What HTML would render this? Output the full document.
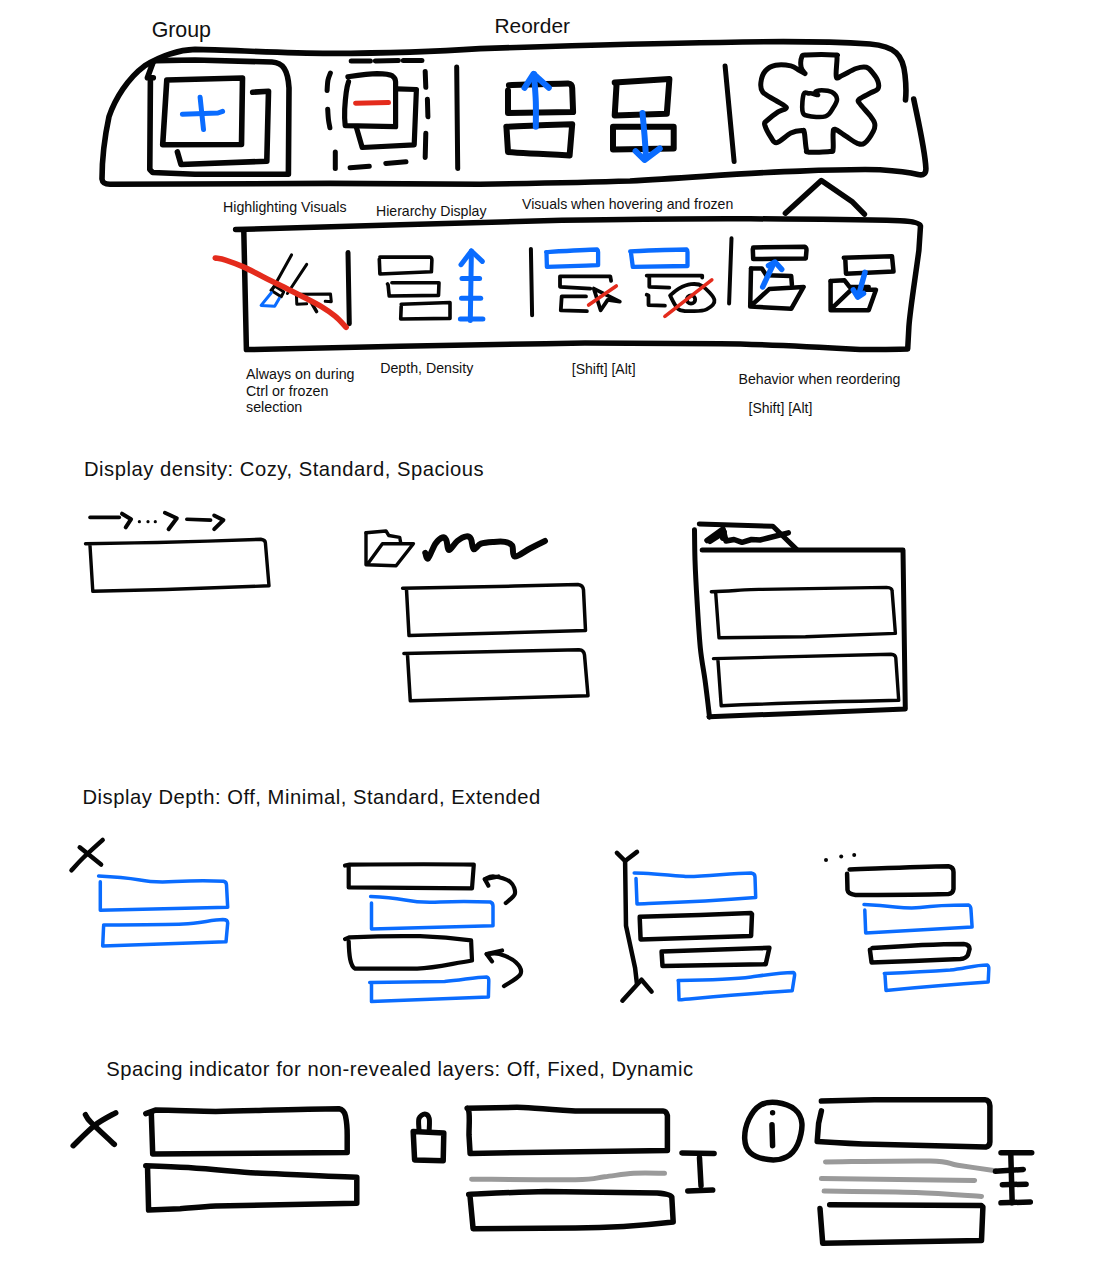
<!DOCTYPE html><html><head><meta charset="utf-8"><style>html,body{margin:0;padding:0;background:#fff;}svg{display:block;}text{font-family:"Liberation Sans",sans-serif;fill:#111;}</style></head><body>
<svg width="1095" height="1274" viewBox="0 0 1095 1274">
<rect width="1095" height="1274" fill="#fff"/>
<g fill="none" stroke-linecap="round" stroke-linejoin="round">
<path d="M905.5 100 C906 95 906.5 88 905 75 C903 55 895 46 870 44 C830 41.5 780 41 720 42.5 C640 43.5 560 46 480 48.6 C430 52 380 53.2 330 53.4 C280 53 230 50 195 49.4 C177 50 161 56 144.5 65.9 C128 78 115 98.9 109 116.6 C104 140 102 163.7 102 179 C102.5 183 105 184.3 110 184.3 L330 183.4 C400 184 450 184.5 480 184.2 C560 183 600 182 630 181 C700 177 760 172 800 171.1 C840 169.5 870 169.5 880 169.7 C900 171 912 173 918 174.5 C924 176 926 173 925.9 168.3 C925 150 918 120 913.7 99" stroke="#050505" stroke-width="5.6"/>
<path d="M153.3 77.7 L147.4 77.7 L153.3 61.8 L156 60.6 L195 60 L272 62 C283 62.5 288 70 289 88 L288.4 174.2 L195 174.3 L152.7 172.5 L149.8 169.6 L150.4 78.9" stroke="#050505" stroke-width="5.6"/>
<path d="M166.8 80.0 L242.5 78.0 L241.5 144.5 L162.7 144.8 L166.8 80.0" stroke="#050505" stroke-width="5.6"/>
<path d="M252.7 92.2 L268.5 91.2 L266.8 161.2 L181.0 164.5 L177.4 151.9" stroke="#050505" stroke-width="5.6"/>
<path d="M182.4 114.3 L218.0 113.0 L222.6 111.3" stroke="#0a6cff" stroke-width="5"/>
<path d="M200.1 97.3 L203.5 129.4" stroke="#0a6cff" stroke-width="5"/>
<path d="M351.2 61.0 L370.4 61.0" stroke="#050505" stroke-width="5"/>
<path d="M375.3 61.0 L398.4 60.4" stroke="#050505" stroke-width="5"/>
<path d="M403.3 60.4 L421.9 60.4" stroke="#050505" stroke-width="5"/>
<path d="M330.4 73.0 C330.0 74.2 328.6 77.1 328.0 80.0 C327.4 82.9 327.2 88.8 327.1 90.5" stroke="#050505" stroke-width="5"/>
<path d="M327.7 109.2 C327.8 111.0 328.1 116.9 328.5 120.0 C328.9 123.1 329.7 126.5 329.9 127.8" stroke="#050505" stroke-width="5"/>
<path d="M335.3 151.9 L335.3 168.4" stroke="#050505" stroke-width="5"/>
<path d="M350.1 167.8 L369.3 166.2" stroke="#050505" stroke-width="5"/>
<path d="M385.8 163.4 L406.0 161.8" stroke="#050505" stroke-width="5"/>
<path d="M425.2 71.4 L425.8 87.3" stroke="#050505" stroke-width="5"/>
<path d="M427.4 99.3 L427.9 116.8" stroke="#050505" stroke-width="5"/>
<path d="M425.8 133.3 L425.2 157.4" stroke="#050505" stroke-width="5"/>
<path d="M347.9 76.8 C360 75 370 73.6 377 73.6 C385 73.8 390 74.5 392.3 75.8 Q395.6 78 395.6 81.8 L395.6 126.7 L345.2 125.6 C344.5 120 344.5 114 344.7 109.2 C345.5 95 347 86 348.5 81.8" stroke="#050505" stroke-width="5.2"/>
<path d="M397.3 88.9 L416.4 89.5 L414.2 144.8 L362.2 147.5 L356.2 126.7" stroke="#050505" stroke-width="5.2"/>
<path d="M355.6 103.2 L388.5 102.6" stroke="#e42b1c" stroke-width="5"/>
<path d="M456.7 67.1 L457.7 168.6" stroke="#050505" stroke-width="5"/>
<path d="M508.9 85.2 C530 84.5 550 83.6 567.9 83.4 Q572.2 84 572.2 88 L573.1 112.1 L508 112.9 L508 90.4" stroke="#050505" stroke-width="6"/>
<path d="M506.3 126.8 C520 126.5 535 125.5 547 125.1 L572.2 124.2 L569.6 155.4 C540 154 520 153 508 152 L506.5 128" stroke="#050505" stroke-width="6"/>
<path d="M535.8 126.8 C535.8 122.6 536.1 110.4 535.8 101.6 C535.5 92.8 534.3 78.6 534.0 74.0" stroke="#0a6cff" stroke-width="6"/>
<path d="M524.5 87.8 L533.5 74.0 L548.8 87.8" stroke="#0a6cff" stroke-width="6"/>
<path d="M614.7 82.6 L669.4 79.1 L666.8 113.8 L614.7 115.5 L616.5 85.2" stroke="#050505" stroke-width="6"/>
<path d="M613.0 126.8 L673.7 126.8 L673.7 148.5 L613.0 149.4 L613.0 127.5" stroke="#050505" stroke-width="6"/>
<path d="M642.5 112.9 C642.8 116.6 643.9 127.5 644.5 135.0 C645.1 142.5 645.8 154.2 646.0 158.0" stroke="#0a6cff" stroke-width="6"/>
<path d="M635.6 151.1 L644.5 160.0 L659.8 148.5" stroke="#0a6cff" stroke-width="6"/>
<path d="M725.1 66.1 L734.1 161.6" stroke="#050505" stroke-width="5"/>
<path d="M805.0 73.6 C804.4 72.5 801.6 70.0 801.1 67.2 C800.6 64.4 800.9 59.0 801.8 57.0 C802.7 55.0 800.9 55.3 806.3 55.0 C811.7 54.7 829.3 54.6 834.4 55.0 C839.5 55.4 836.7 54.0 837.0 57.6 C837.3 61.2 835.4 73.8 836.3 76.8 C837.1 79.8 838.8 76.9 842.1 75.5 C845.4 74.1 852.1 69.9 856.1 68.5 C860.1 67.1 863.6 66.5 866.4 67.2 C869.2 67.9 870.8 70.6 872.7 72.9 C874.6 75.2 877.0 78.5 877.9 81.2 C878.8 83.9 879.1 87.0 877.9 88.9 C876.7 90.8 873.9 91.1 870.8 92.8 C867.7 94.5 861.2 97.4 859.3 99.1 C857.4 100.8 857.5 100.2 859.3 103.0 C861.1 105.8 867.6 112.4 870.2 115.8 C872.8 119.2 874.2 120.9 874.7 123.4 C875.2 126.0 875.1 127.8 873.4 131.1 C871.7 134.4 867.1 141.3 864.4 143.3 C861.7 145.3 860.5 144.5 857.4 143.3 C854.3 142.1 849.6 138.5 845.9 136.2 C842.2 133.8 837.1 129.6 835.0 129.2 C832.9 128.8 833.4 130.4 833.1 133.7 C832.8 137.0 833.6 146.0 833.1 149.0 C832.6 152.0 834.0 151.1 829.9 151.6 C825.8 152.1 812.7 152.6 808.8 152.2 C804.9 151.8 807.0 152.3 806.3 149.0 C805.5 145.7 805.0 135.5 804.3 132.4 C803.5 129.3 804.0 130.4 801.8 130.5 C799.6 130.6 795.0 131.0 790.9 133.0 C786.8 135.0 780.2 141.8 776.9 142.6 C773.6 143.3 773.1 140.5 771.1 137.5 C769.1 134.5 765.5 127.5 764.7 124.7 C764.0 121.9 764.4 123.0 766.6 120.9 C768.8 118.8 774.8 114.1 778.1 111.9 C781.4 109.7 786.8 109.4 786.4 107.5 C786.0 105.6 779.5 103.0 775.6 100.4 C771.7 97.8 765.2 95.1 762.8 92.1 C760.3 89.1 760.5 86.0 760.9 82.5 C761.3 79.0 762.8 73.9 765.3 71.0 C767.8 68.1 771.3 66.1 775.6 65.3 C779.9 64.5 787.0 65.1 790.9 65.9 C794.8 66.8 796.9 69.1 799.2 70.4 C801.6 71.7 804.0 73.1 805.0 73.6" stroke="#050505" stroke-width="5"/>
<path d="M808.8 93.4 C807.4 93.5 804.8 91.1 803.7 94.0 C802.6 96.9 801.8 107.1 802.4 110.7 C803.0 114.3 803.7 114.8 807.5 115.8 C811.3 116.8 821.1 117.7 825.4 116.4 C829.7 115.1 831.2 111.0 833.1 108.1 C835.0 105.2 837.2 101.8 837.0 99.1 C836.8 96.4 834.4 93.6 831.8 92.1 C829.2 90.6 824.4 90.2 821.6 90.2 C818.8 90.2 815.8 91.3 815.2 92.1 C814.6 92.9 818.5 94.8 818.0 95.0 C817.5 95.2 813.5 93.8 812.0 93.5 C810.5 93.2 810.2 93.3 808.8 93.4" stroke="#050505" stroke-width="4.6"/>
<path d="M785.4 213.2 L821.3 180.5 L852.6 202.1 L864.4 214.2" stroke="#050505" stroke-width="5.5"/>
<path d="M235.6 229.5 C300 227.5 350 226 400 224.8 C480 222.5 530 220.8 585 219.9 C650 219 700 218.6 750 218.8 C820 219.2 870 220 900 220.8 Q919 221.5 920.5 226 L918.9 250.4 C915 280 910 310 908.9 326.7 L907.7 348.9 C880 349.5 870 349.6 860 349.6 C800 346 760 344 720 343.7 L585 343 C520 344 450 345.5 400 346.3 C320 348 270 349.5 246.4 349.6 L244 240 L243.8 230.7" stroke="#050505" stroke-width="5.5"/>
<path d="M291.5 254.9 L272.2 289.8" stroke="#050505" stroke-width="3"/>
<path d="M306.7 264.3 L287.4 293.5" stroke="#050505" stroke-width="3"/>
<path d="M271.0 290.2 L274.7 286.1 L283.7 291.8 L281.2 296.8 L271.0 290.2" stroke="#050505" stroke-width="3"/>
<path d="M271.4 292.7 L261.1 305.4 L274.7 306.2 L279.2 298.4" stroke="#0a6cff" stroke-width="3"/>
<path d="M325.2 301.3 L331.3 301.7 L330.5 293.9 L296.4 294.3 L296.8 304.2 L306.7 303.8" stroke="#050505" stroke-width="3"/>
<path d="M310.8 301.7 L316.6 311.6" stroke="#050505" stroke-width="3.5"/>
<path d="M348.0 252.6 L349.3 323.8" stroke="#050505" stroke-width="5"/>
<path d="M215.3 258.0 C217.0 258.4 220.8 258.6 225.5 260.1 C230.2 261.6 237.2 264.2 243.4 266.9 C249.6 269.6 256.1 273.3 262.5 276.5 C268.9 279.7 275.3 282.9 281.7 286.1 C288.1 289.3 294.3 292.3 300.9 295.7 C307.5 299.1 315.7 303.2 321.4 306.6 C327.1 310.0 331.0 312.8 335.1 316.2 C339.2 319.6 344.3 325.4 346.1 327.2" stroke="#e42b1c" stroke-width="5.6"/>
<path d="M379.9 257.1 L429.7 257.1 Q431.9 257.5 431.9 260 L431.4 271.8 L379.9 274 L379.3 259.2" stroke="#050505" stroke-width="3.6"/>
<path d="M391.9 282.8 L439 282.8 L438.5 295.4 L389.2 296 L388.1 285 L387.5 284" stroke="#050505" stroke-width="3.6"/>
<path d="M401.2 304.2 L450 302.5 L450 318.4 L400.7 319 L401.2 306.4" stroke="#050505" stroke-width="3.6"/>
<path d="M471.4 251.0 L470.3 320.6" stroke="#0a6cff" stroke-width="5"/>
<path d="M461.0 264.7 L471.4 251.0 L482.3 261.4" stroke="#0a6cff" stroke-width="5"/>
<path d="M462.0 278.4 L479.6 278.4" stroke="#0a6cff" stroke-width="5"/>
<path d="M461.5 298.2 L480.7 298.2" stroke="#0a6cff" stroke-width="5"/>
<path d="M460.4 319.0 L482.9 319.0" stroke="#0a6cff" stroke-width="5"/>
<path d="M530.9 248.9 L532.1 315.3" stroke="#050505" stroke-width="4"/>
<path d="M731.5 238.2 L729.1 303.5" stroke="#050505" stroke-width="4"/>
<path d="M546.1 252.1 C565 251 585 249.8 597.3 249.5 Q598.1 250 598.1 252 L598.1 265.2 C580 265.8 560 266.5 546.9 266.9 L546.5 253" stroke="#0a6cff" stroke-width="4.3"/>
<path d="M630.2 251.3 C650 250.5 670 249.7 686.6 249.5 Q687.5 250 687.5 252 L687.5 266 C665 266.3 645 266.7 632.8 266.9 L631 253" stroke="#0a6cff" stroke-width="4.3"/>
<path d="M611.1 280.8 L610.3 276.4 L560.0 276.4 L560.0 286.8 L590.3 288.6" stroke="#050505" stroke-width="3.8"/>
<path d="M586.0 296.4 L561.7 296.4 L560.8 310.3 L586.9 311.1" stroke="#050505" stroke-width="3.8"/>
<path d="M593.8 288.6 L619.8 301.6 L607.7 299.9 L600.7 310.3 L593.8 288.6" stroke="#050505" stroke-width="3.8"/>
<path d="M588.6 305.1 L616.3 286.0" stroke="#e42b1c" stroke-width="3.6"/>
<path d="M702.2 277.5 L702.2 275.6 L646.7 275.6" stroke="#050505" stroke-width="3.8"/>
<path d="M649.3 277.3 L649.3 286.8 L669.3 287.7" stroke="#050505" stroke-width="3.8"/>
<path d="M646.7 294.7 L648.5 295.5 L648.5 305.1 L664.9 305.6" stroke="#050505" stroke-width="3.8"/>
<path d="M670.1 295.5 C671.5 294.4 675.3 290.5 678.8 288.6 C682.3 286.7 687.1 284.6 691.0 284.2 C694.9 283.8 698.3 283.4 702.2 286.0 C706.1 288.6 713.7 296.0 714.4 299.9 C715.1 303.8 710.2 307.5 706.6 309.4 C703.0 311.3 697.3 311.1 692.7 311.1 C688.1 311.1 682.6 312.0 678.8 309.4 C675.0 306.8 671.5 297.8 670.1 295.5" stroke="#050505" stroke-width="3.8"/>
<circle cx="691.0" cy="299.5" r="4.2" stroke="#050505" stroke-width="3.8"/>
<path d="M664.9 316.3 L711.8 279.9" stroke="#e42b1c" stroke-width="3.6"/>
<path d="M753.2 247.4 C770 247 790 246.7 804.3 246.7 Q806.5 247.5 806.5 250 L805.8 258.4 C790 258.6 770 258.9 753.2 259.1 L752.8 249" stroke="#050505" stroke-width="4.5"/>
<path d="M751.0 268.6 L761.9 268.6 L766.3 275.2 L791.2 275.9 L791.9 284.7" stroke="#050505" stroke-width="4.5"/>
<path d="M751.0 268.6 L750.2 306.6 L791.2 308.8 L803.6 286.9 L769.2 289.1 L751.7 305.2" stroke="#050505" stroke-width="4.5"/>
<path d="M762.7 286.9 L773.6 263.5" stroke="#0a6cff" stroke-width="5.5"/>
<path d="M768.5 265.7 L775.1 262.0 L781.7 269.4" stroke="#0a6cff" stroke-width="5.5"/>
<path d="M843.8 257.7 L892.0 256.2 L893.5 271.5 L846.0 273.7 L845.3 259.1" stroke="#050505" stroke-width="4.5"/>
<path d="M830.6 281.1 L844.5 280.3 L849.6 286.9 L868.7 286.9" stroke="#050505" stroke-width="4.5"/>
<path d="M830.6 281.1 L830.6 310.3 L868.7 310.3 L876.0 289.8 L851.1 289.8 L833.6 306.6" stroke="#050505" stroke-width="4.5"/>
<path d="M865.0 272.3 L858.4 296.0" stroke="#0a6cff" stroke-width="5.5"/>
<path d="M853.3 289.8 L857.7 297.1 L863.5 293.5" stroke="#0a6cff" stroke-width="5.5"/>
<circle cx="858.5" cy="294.8" r="3.5" fill="#0a6cff"/>
<path d="M90.0 517.4 L119.3 517.4" stroke="#050505" stroke-width="3.6"/>
<path d="M122.0 513.7 L131.1 519.2 L125.7 527.4" stroke="#050505" stroke-width="4"/>
<circle cx="139.4" cy="521.7" r="1.6" fill="#050505"/>
<circle cx="148.0" cy="521.7" r="1.6" fill="#050505"/>
<circle cx="155.3" cy="521.7" r="1.6" fill="#050505"/>
<path d="M164.9 512.8 L176.8 518.3 L168.6 529.2" stroke="#050505" stroke-width="4"/>
<path d="M186.8 519.2 L210.6 520.1" stroke="#050505" stroke-width="3.6"/>
<path d="M214.2 515.5 L223.4 520.1 L214.2 529.2" stroke="#050505" stroke-width="4"/>
<path d="M85.5 543.8 C110 543.5 125 543 134.8 542.9 C160 542.5 190 541.5 207.9 541.1 L260.8 539.3 Q265.4 540 265.4 543 L269 585.8 C220 587.5 190 588.5 165.8 589.5 L92.8 591.3 L90 545.7" stroke="#050505" stroke-width="3.4"/>
<path d="M366.0 532.8 L386.0 531.0 L388.8 535.5 L399.7 537.4 L400.7 542.8" stroke="#050505" stroke-width="3.4"/>
<path d="M366.0 532.8 L366.0 564.7 L396.1 565.7 L413.4 543.7 L382.4 543.7 L367.8 563.8" stroke="#050505" stroke-width="3.4"/>
<path d="M425.3 552.9 C425.8 553.8 426.4 559.9 428.1 558.4 C429.8 556.9 433.0 547.2 435.4 543.7 C437.8 540.2 440.9 538.0 442.7 537.4 C444.5 536.8 445.2 538.0 446.3 540.1 C447.4 542.2 447.3 550.0 449.1 550.1 C450.9 550.2 454.4 543.3 457.3 541.0 C460.2 538.7 464.1 536.7 466.4 536.4 C468.7 536.1 469.8 536.9 471.0 539.0 C472.2 541.1 472.0 548.4 473.7 549.2 C475.4 550.0 477.6 544.9 481.0 543.7 C484.4 542.5 489.8 542.2 493.8 541.9 C497.8 541.6 501.8 541.3 504.8 541.9 C507.9 542.5 510.4 543.2 512.1 545.6 C513.8 548.0 511.8 556.0 514.8 556.5 C517.8 557.0 525.0 551.1 530.0 548.5 C535.0 545.9 542.5 542.2 545.0 541.0" stroke="#050505" stroke-width="6"/>
<path d="M402.6 588.3 C450 587.5 520 586 578 584.5 Q583 585 583.5 590 L585.5 630.5 C500 633 450 634.5 409 635.6 L406.5 589.6" stroke="#050505" stroke-width="3.5"/>
<path d="M403.9 653.5 C450 652.5 520 651 579 649.7 Q584 650 584.5 655 L588 695.7 C500 698 450 699.5 410.3 700.8 L407.5 655" stroke="#050505" stroke-width="3.5"/>
<path d="M699.3 523.9 L772.9 526.3 L796.6 549.4" stroke="#050505" stroke-width="5"/>
<path d="M702.2 550.0 L903.0 550.0 L905.3 709.0 L794.6 713.4 L709.1 716.7" stroke="#050505" stroke-width="5"/>
<path d="M694.5 529.8 C694.6 534.8 694.6 548.3 695.0 560.0 C695.4 571.7 696.1 585.4 697.0 600.0 C697.9 614.6 699.0 634.4 700.3 647.7 C701.6 661.0 703.5 669.0 705.0 680.0 C706.5 691.0 708.4 707.3 709.1 713.4 C709.8 719.5 709.1 716.2 709.1 716.7" stroke="#050505" stroke-width="5"/>
<path d="M707.0 540.5 L723.0 529.0 L726.0 541.0 L734.0 539.5 L742.0 542.3 L751.5 539.5 L760.0 540.0 L768.0 538.0 L788.3 532.8" stroke="#050505" stroke-width="5.5"/>
<path d="M710.0 541.0 L724.0 532.0 L723.0 538.0" stroke="#050505" stroke-width="6"/>
<path d="M711.3 591.8 C730 591 740 590 750.8 589.6 C800 588.5 850 588 886.6 587.4 Q892 587.6 892.1 591 L895.4 633.4 C850 635 820 636 805.5 636.7 L719 637.8 L715.7 592.9" stroke="#050505" stroke-width="3.4"/>
<path d="M713.5 658.6 C760 657.5 820 656 891 654.2 Q895.5 654.5 895.8 658 L898.7 700.3 C820 702 760 704 721.2 705.8 L717.9 659.7" stroke="#050505" stroke-width="3.4"/>
<path d="M71.5 870.3 C73.4 868.2 77.8 863.1 83.0 858.0 C88.2 852.9 99.4 842.9 102.7 839.9" stroke="#050505" stroke-width="4.5"/>
<path d="M79.7 847.3 L101.1 864.5" stroke="#050505" stroke-width="4.5"/>
<path d="M98.6 876 C110 876.5 125 877.5 140 880 C150 882 158 882.5 175 881.5 C195 880.5 215 880.8 223.6 881.3 Q226.5 882 226.5 885 L227.7 907.3 C200 908 160 909 100.3 910.2 L100.3 881.8" stroke="#0a6cff" stroke-width="3.5"/>
<path d="M103.6 925 C140 924.8 170 924.6 183.3 924 C200 923 212 920 222.8 919.6 Q227.7 919.6 227.7 923 L226 941.8 C180 943 140 945 102.7 945.9 L103.6 926" stroke="#0a6cff" stroke-width="3.5"/>
<path d="M345 865.5 L349.6 864.6 C400 864.2 440 864 473.8 864.6 L472 888.4 L348.7 887.4 L348.7 866.4" stroke="#050505" stroke-width="4.2"/>
<path d="M505.8 903.0 C507.3 901.5 514.1 897.3 514.9 893.8 C515.6 890.3 513.8 884.9 510.3 882.0 C506.8 879.1 498.1 877.0 493.9 876.5 C489.6 876.0 486.3 878.8 484.8 879.2" stroke="#050505" stroke-width="4.2"/>
<path d="M488.4 885.6 L484.8 879.2 L498.5 876.5" stroke="#050505" stroke-width="4.2"/>
<path d="M370.6 896.6 C380 897 393 898 405 900 C415 902 425 903 440 902 C460 901.2 475 901.5 490.3 902 Q493 903 493 906 L493 925.8 C440 927 400 928 371.5 928.9 L371.5 903" stroke="#0a6cff" stroke-width="3.5"/>
<path d="M345 939.1 L349.6 937.3 C380 936 400 935.8 420 936.2 C440 937 460 939 471.1 940.4 L472 960.5 C450 964 435 968 417.2 968.7 L355.1 968.7 C350 966 349 955 348.7 941.3" stroke="#050505" stroke-width="4.2"/>
<path d="M504.0 986.1 C506.7 984.1 518.4 978.2 520.4 974.2 C522.4 970.2 519.3 965.6 515.8 962.3 C512.3 958.9 504.3 955.5 499.4 954.1 C494.5 952.7 488.7 954.1 486.6 954.1" stroke="#050505" stroke-width="4.2"/>
<path d="M492.1 961.4 L486.6 954.1 L502.1 950.5" stroke="#050505" stroke-width="4.2"/>
<path d="M369.7 982.4 C400 982 430 981.8 444.6 981.5 C460 980.5 475 977 486.6 976.9 Q489 977.5 488.8 981 L488.4 997 C440 999 400 1000.5 371.5 1001.6 L371.5 983.5" stroke="#0a6cff" stroke-width="3.5"/>
<path d="M616.9 852.8 L625.1 861.0 L637.0 851.9" stroke="#050505" stroke-width="4.5"/>
<path d="M625.1 861.0 L626.0 925.8 L635.1 967.9 L637.0 984.3" stroke="#050505" stroke-width="4.5"/>
<path d="M622.4 1000.7 L641.5 979.7 L651.6 991.6" stroke="#050505" stroke-width="4.5"/>
<path d="M634.2 872.9 C650 873 670 875 685.4 876.5 C705 877 730 873 751.1 872.9 Q755 873.5 755 877 L755.7 897.5 C700 902 660 903 637 903.9 L636 878.4" stroke="#0a6cff" stroke-width="3.5"/>
<path d="M639.7 916.7 L700.0 915.0 L751.1 913.1 L752.0 914.0 L751.1 935.9 L640.6 939.5 L639.7 917.5" stroke="#050505" stroke-width="4.5"/>
<path d="M661.6 951.4 L769.4 947.8 L765.7 964.2 L662.5 966.0 L661.6 952.0" stroke="#050505" stroke-width="4.5"/>
<path d="M678.1 980.6 C710 980 735 979 751.1 977 C765 975 780 972.4 793.1 972.4 Q795 973 794.5 976 L792.2 990.7 C740 994 700 998 679 999.8 L678.5 982" stroke="#0a6cff" stroke-width="3.5"/>
<circle cx="826.0" cy="859.9" r="2.0" fill="#050505"/>
<circle cx="841.2" cy="856.4" r="2.0" fill="#050505"/>
<circle cx="854.2" cy="854.9" r="2.0" fill="#050505"/>
<path d="M849.6 869.6 C890 868 920 866.5 948.5 866.2 Q953.5 867 953.5 872 L953.5 889 Q953 893.5 948.5 894.1 C910 895 880 895.2 855.5 894.9 Q848 894 847.5 890 L847.1 873.8" stroke="#050505" stroke-width="4.5"/>
<path d="M864 904.5 C875 905 886 905.9 895 907 C905 908 913 908.4 920 907.5 C935 905.5 950 905 968.7 905 Q971 906 971 910 L972.1 927 C930 929 900 931 865.7 932.9 L864.8 910.1" stroke="#0a6cff" stroke-width="3.5"/>
<path d="M872.4 948.1 C900 946 930 944 963.7 943.9 Q969.6 944.5 969.6 949 L967.9 955 Q966 958.5 960.3 959.1 C920 961 890 962 871.6 962.5 L869.9 949.8" stroke="#050505" stroke-width="4.5"/>
<path d="M884.3 973.5 C910 972.5 930 971.5 950.2 970.1 C965 968.5 975 965 987.3 965 Q989 966 988.8 969 L988.2 981.9 C940 985 910 988 886 990.4 L885 975" stroke="#0a6cff" stroke-width="3.5"/>
<path d="M73.2 1145.7 C76.8 1142.3 88.0 1130.6 95.1 1125.1 C102.2 1119.6 112.3 1114.8 115.7 1112.8" stroke="#050505" stroke-width="5.5"/>
<path d="M85.5 1114.7 C86.4 1116.0 86.2 1117.5 91.0 1122.4 C95.8 1127.3 110.4 1140.7 114.3 1144.3" stroke="#050505" stroke-width="5.5"/>
<path d="M145.8 1113.6 L155.4 1110.1 C180 1110.5 200 1111.4 215.7 1111.4 C260 1110.5 300 1109 339 1108.7 Q344 1109.5 345.5 1116 C347 1123 347.2 1130 347.2 1135 L347.2 1152.5 L152.7 1153.9 L151.3 1112.8" stroke="#050505" stroke-width="5.5"/>
<path d="M145.8 1165.7 C165 1166.3 180 1167 188.3 1167.6 C220 1170 240 1172 256.8 1173.1 C300 1175 330 1176.5 356.8 1177.2 L356.8 1203.2 L215.7 1206 C200 1207 190 1208 180.1 1208.7 L148.6 1210.1 L147.5 1166" stroke="#050505" stroke-width="5.5"/>
<path d="M413.2 1131.5 L443.8 1133.0 L443.2 1160.8 L414.6 1159.9 L413.2 1131.5" stroke="#050505" stroke-width="5.5"/>
<path d="M419.0 1130.1 C419.0 1128.1 418.0 1121.1 419.0 1118.4 C420.0 1115.7 423.1 1114.0 424.8 1114.0 C426.5 1114.0 428.5 1115.7 429.2 1118.4 C429.9 1121.1 429.2 1128.1 429.2 1130.1" stroke="#050505" stroke-width="5"/>
<path d="M467.2 1108.2 L468.5 1110 C470 1114 469 1125 469 1135 L470.1 1153.4 L667.4 1150.5 L667.4 1115.5 Q666 1111 663 1111.1 L575.3 1111.1 C540 1108.5 520 1107.3 516.9 1107.3 L467.2 1108.2" stroke="#050505" stroke-width="5.5"/>
<path d="M471.6 1179.2 C488.9 1179.3 553.1 1180.1 575.3 1179.7 C597.5 1179.3 594.9 1177.9 604.6 1176.8 C614.4 1175.7 623.8 1173.9 633.8 1173.3 C643.8 1172.7 659.4 1173.3 664.5 1173.3" stroke="#9a9a9a" stroke-width="5"/>
<path d="M468.7 1194.4 C500 1193 520 1192 546.1 1191.4 C600 1192 630 1192.5 657.2 1192.9 Q671 1194 671.8 1197 L673.2 1222.1 C640 1226 600 1228 575.3 1228 L473.1 1228.8 L470 1196" stroke="#050505" stroke-width="5.5"/>
<path d="M682.0 1152.9 L714.1 1153.4" stroke="#050505" stroke-width="5.5"/>
<path d="M699.5 1157.8 L701.0 1185.6" stroke="#050505" stroke-width="5.5"/>
<path d="M687.8 1190.9 L712.7 1190.0" stroke="#050505" stroke-width="5.5"/>
<path d="M776.8 1102.5 C782.6 1103.2 790.7 1106.0 794.9 1109.5 C799.1 1113.0 801.4 1117.6 801.9 1123.4 C802.4 1129.2 800.3 1138.7 797.7 1144.3 C795.1 1149.9 791.4 1154.4 786.5 1156.9 C781.6 1159.5 774.4 1160.3 768.4 1159.6 C762.4 1158.9 754.2 1156.2 750.3 1152.7 C746.3 1149.2 744.9 1144.3 744.7 1138.7 C744.5 1133.1 746.3 1124.8 748.9 1119.2 C751.5 1113.6 755.5 1108.1 760.1 1105.3 C764.8 1102.5 771.0 1101.8 776.8 1102.5" stroke="#050505" stroke-width="5.5"/>
<circle cx="772.6" cy="1112.8" r="2.7" fill="#050505"/>
<path d="M772.0 1124.8 L772.6 1145.7" stroke="#050505" stroke-width="5.5"/>
<path d="M821.4 1110.9 L818.6 1123.4 L817.2 1141.5 C840 1143 860 1144 874.3 1144.3 L985.7 1147.1 Q989.9 1146 989.9 1142 L989.9 1106 Q989.5 1100 985 1099.7 L874.3 1099.7 L821.4 1101.1" stroke="#050505" stroke-width="5.5"/>
<path d="M825.5 1161.9 C842.9 1161.8 908.0 1160.5 930.0 1161.0 C952.0 1161.5 946.9 1163.6 957.8 1165.2 C968.7 1166.8 989.1 1169.9 995.4 1170.8" stroke="#9a9a9a" stroke-width="5"/>
<path d="M821.4 1178.6 L974.6 1180.5" stroke="#9a9a9a" stroke-width="5"/>
<path d="M824.1 1191.1 C839.4 1191.3 889.9 1191.6 916.1 1192.5 C942.3 1193.4 970.6 1195.8 981.5 1196.4" stroke="#9a9a9a" stroke-width="5"/>
<path d="M829.7 1204.8 L981.5 1205.6 L982.9 1207.0 L981.5 1240.4 L822.7 1243.2 L820.0 1208.4" stroke="#050505" stroke-width="5.5"/>
<path d="M1010.8 1154.1 L1012.2 1202.8" stroke="#050505" stroke-width="5.5"/>
<path d="M1001.0 1152.7 L1031.7 1152.7" stroke="#050505" stroke-width="5.5"/>
<path d="M995.4 1171.3 L1023.3 1169.4" stroke="#050505" stroke-width="5.5"/>
<path d="M1002.4 1184.7 L1026.1 1184.2" stroke="#050505" stroke-width="5.5"/>
<path d="M1001.0 1202.8 L1030.3 1202.0" stroke="#050505" stroke-width="5.5"/>
</g>
<text x="151.8" y="36.9" font-size="21.4" letter-spacing="-0.1">Group</text>
<text x="494.5" y="32.9" font-size="20.9">Reorder</text>
<text x="223.0" y="212.4" font-size="14.2">Highlighting Visuals</text>
<text x="376.0" y="215.5" font-size="14.1">Hierarchy Display</text>
<text x="522.0" y="208.7" font-size="14.1">Visuals when hovering and frozen</text>
<text x="246.0" y="379.2" font-size="14.25">Always on during</text>
<text x="246.0" y="395.7" font-size="14.25">Ctrl or frozen</text>
<text x="246.0" y="412.3" font-size="14.25">selection</text>
<text x="380.2" y="372.9" font-size="14.2">Depth, Density</text>
<text x="571.8" y="373.6" font-size="14">[Shift] [Alt]</text>
<text x="738.5" y="384.0" font-size="14.15">Behavior when reordering</text>
<text x="748.5" y="413.3" font-size="14">[Shift] [Alt]</text>
<text x="84.0" y="476.0" font-size="20.2" letter-spacing="0.52">Display density: Cozy, Standard, Spacious</text>
<text x="82.5" y="803.7" font-size="20.2" letter-spacing="0.52">Display Depth: Off, Minimal, Standard, Extended</text>
<text x="106.3" y="1075.6" font-size="20.2" letter-spacing="0.52">Spacing indicator for non-revealed layers: Off, Fixed, Dynamic</text>
</svg></body></html>
